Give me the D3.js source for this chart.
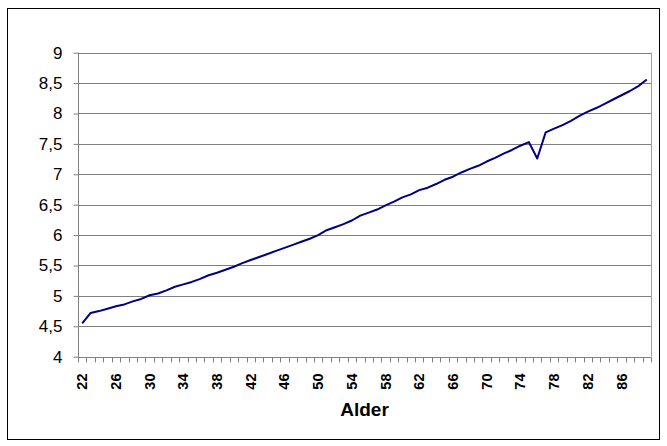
<!DOCTYPE html>
<html>
<head>
<meta charset="utf-8">
<script src="https://cdn.jsdelivr.net/npm/d3@7"></script>
<style>
  html, body { margin: 0; padding: 0; background: #fff; }
  svg { display: block; font-family: "Liberation Sans", Arial, sans-serif; }
</style>
</head>
<body>
<svg id="chart" width="667" height="446"></svg>
<script>
// Age categories (22..89) and the matching series values
const ages = d3.range(22, 90);
const values = [
  4.55, 4.72, 4.75, 4.79, 4.83, 4.86, 4.91, 4.95, 5.01, 5.04,
  5.09, 5.15, 5.19, 5.23, 5.28, 5.34, 5.38, 5.43, 5.48, 5.54,
  5.59, 5.64, 5.69, 5.74, 5.79, 5.84, 5.89, 5.94, 6.00, 6.08,
  6.13, 6.18, 6.24, 6.32, 6.37, 6.42, 6.49, 6.55, 6.62, 6.67,
  6.74, 6.78, 6.84, 6.91, 6.96, 7.03, 7.09, 7.14, 7.21, 7.27,
  7.34, 7.40, 7.47, 7.53, 7.26, 7.69, 7.75, 7.81, 7.88, 7.96,
  8.03, 8.09, 8.16, 8.23, 8.30, 8.37, 8.45, 8.56
];
const yTicks = [4, 4.5, 5, 5.5, 6, 6.5, 7, 7.5, 8, 8.5, 9];
const xLabelAges = ages.filter(a => (a - 22) % 4 === 0);
const xTitle = "Alder";

const svg = d3.select("#chart");
const plot = { left: 78, right: 651, top: 52.7, bottom: 356.7 };

// Outer chart frame
svg.append("rect")
  .attr("x", 7.5).attr("y", 8.5)
  .attr("width", 652).attr("height", 431)
  .attr("fill", "#fff").attr("stroke", "#000").attr("stroke-width", 1);

const x = d3.scaleBand().domain(ages).range([plot.left, plot.right]).padding(0);
const y = d3.scaleLinear().domain([4, 9]).range([plot.bottom, plot.top]);

// Horizontal gridlines
svg.append("g")
  .selectAll("line")
  .data(yTicks)
  .join("line")
  .attr("x1", plot.left).attr("x2", plot.right)
  .attr("y1", d => Math.round(y(d)) + 0.5).attr("y2", d => Math.round(y(d)) + 0.5)
  .attr("stroke", "#808080").attr("stroke-width", 1);

// Right border of the plot area
svg.append("line")
  .attr("x1", plot.right + 0.5).attr("x2", plot.right + 0.5)
  .attr("y1", plot.top).attr("y2", plot.bottom)
  .attr("stroke", "#a0a0a0");

// Y axis
const fmt = d => String(d).replace(".", ",");
const yAxis = svg.append("g")
  .attr("transform", `translate(${plot.left + 0.5},0)`)
  .call(d3.axisLeft(y).tickValues(yTicks).tickFormat(fmt).tickSize(5).tickPadding(11));
yAxis.select(".domain").attr("stroke", "#808080").attr("d", `M0,${plot.top}V${plot.bottom + 4}`);
yAxis.selectAll(".tick line").attr("stroke", "#808080");
yAxis.selectAll(".tick text").attr("font-size", 17).attr("fill", "#000")
  .attr("font-family", "Liberation Sans, Arial, sans-serif");

// X axis: minor ticks at every category boundary
const xAxisG = svg.append("g").attr("transform", `translate(0,${Math.round(plot.bottom) + 0.5})`);
xAxisG.append("line")
  .attr("x1", plot.left).attr("x2", plot.right + 0.5)
  .attr("stroke", "#808080");
xAxisG.selectAll("line.tk")
  .data(ages.concat([null]))
  .join("line")
  .attr("class", "tk")
  .attr("x1", (d, i) => Math.round(plot.left + i * x.bandwidth()) + 0.5)
  .attr("x2", (d, i) => Math.round(plot.left + i * x.bandwidth()) + 0.5)
  .attr("y1", 0).attr("y2", 5)
  .attr("stroke", "#808080");

// Rotated category labels
xAxisG.selectAll("text")
  .data(xLabelAges)
  .join("text")
  .attr("transform", d => `translate(${x(d) + x.bandwidth() / 2 + 5},${16}) rotate(-90)`)
  .attr("text-anchor", "end")
  .attr("font-size", 14.5)
  .attr("font-weight", "bold")
  .attr("fill", "#000")
  .text(d => d);

// Axis title
svg.append("text")
  .attr("x", (plot.left + plot.right) / 2)
  .attr("y", 416)
  .attr("text-anchor", "middle")
  .attr("font-size", 19)
  .attr("font-weight", "bold")
  .text(xTitle);

// Data line
const line = d3.line()
  .x((d, i) => x(ages[i]) + x.bandwidth() / 2)
  .y(d => y(d));
svg.append("path")
  .datum(values)
  .attr("d", line)
  .attr("fill", "none")
  .attr("stroke", "#000080")
  .attr("stroke-width", 2)
  .attr("stroke-linejoin", "round");
</script>
</body>
</html>
